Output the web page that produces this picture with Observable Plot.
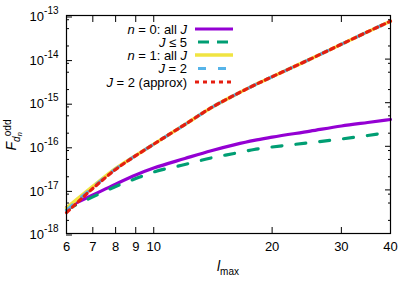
<!DOCTYPE html>
<html><head><meta charset="utf-8">
<script src="https://cdn.jsdelivr.net/npm/d3@7"></script>
<script src="https://cdn.jsdelivr.net/npm/@observablehq/plot@0.6"></script>
<style>
body{margin:0;background:#fff}
svg{font-family:"Liberation Sans",Arial,Helvetica,sans-serif}
</style>
</head><body><div id="chart"></div>
<script>
// data
const lmax = [6, 7, 8, 9, 10, 12, 14, 16, 18, 20, 25, 30, 35, 40];
const n0AllJ = [3.94e-18, 7.64e-18, 1.36e-17, 2.20e-17, 3.16e-17, 5.25e-17, 7.94e-17, 1.08e-16, 1.37e-16, 1.62e-16, 2.23e-16, 2.92e-16, 3.52e-16, 4.12e-16];
const n0Jle5 = [3.55e-18, 6.92e-18, 1.20e-17, 1.82e-17, 2.57e-17, 3.83e-17, 5.42e-17, 6.84e-17, 8.45e-17, 9.64e-17, 1.21e-16, 1.47e-16, 1.77e-16, 2.13e-16];
const n1AllJ = [3.85e-18, 1.20e-17, 3.10e-17, 6.15e-17, 1.12e-16, 3.16e-16, 7.67e-16, 1.47e-15, 2.51e-15, 3.93e-15, 1.00e-14, 2.19e-14, 4.23e-14, 7.41e-14];
const n1J2 = [3.39e-18, 1.14e-17, 3.02e-17, 6.15e-17, 1.12e-16, 3.16e-16, 7.67e-16, 1.47e-15, 2.51e-15, 3.93e-15, 1.00e-14, 2.19e-14, 4.23e-14, 7.41e-14];
const n1J2approx = [3.00e-18, 1.08e-17, 2.94e-17, 6.10e-17, 1.12e-16, 3.16e-16, 7.67e-16, 1.47e-15, 2.51e-15, 3.93e-15, 1.00e-14, 2.19e-14, 4.23e-14, 7.41e-14];
const xTicks = [6, 7, 8, 9, 10, 20, 30, 40];
const yExponents = [-18, -17, -16, -15, -14, -13];
const yMinorMult = [2, 5, 8];

const yMajor = yExponents.map(e => Math.pow(10, e));
const yMinor = yExponents.slice(0, -1).flatMap(e => yMinorMult.map(m => m * Math.pow(10, e)));

const series = [
  {values: n0AllJ, stroke: "#9400d3", width: 3.2, dash: null, legendDash: null, label: [["i","n"],["r"," = 0: all "],["i","J"]]},
  {values: n0Jle5, stroke: "#009e73", width: 3.2, dash: "10,14", legendDash: "11,8", label: [["i","J"],["r"," ≤ 5"]]},
  {values: n1AllJ, stroke: "#f0e442", width: 3.4, dash: null, legendDash: null, label: [["i","n"],["r"," = 1: all "],["i","J"]]},
  {values: n1J2, stroke: "#56b4e9", width: 3.2, dash: "8,12", legendDash: "8,12", label: [["i","J"],["r"," = 2"]]},
  {values: n1J2approx, stroke: "#e51e10", width: 3.2, dash: "4,4", legendDash: "4,4", label: [["i","J"],["r"," = 2 (approx)"]]}
];

const lineMarks = series.map(s => Plot.line(lmax.map((l, i) => ({l, v: s.values[i]})), {
  x: "l", y: "v", stroke: s.stroke, strokeWidth: s.width, strokeDasharray: s.dash, curve: "monotone-x"
}));

const fs = 13;
const chart = Plot.plot({
  width: 415, height: 290,
  marginLeft: 66, marginRight: 25, marginTop: 15, marginBottom: 57,
  style: {fontSize: fs + "px", fontFamily: '"Liberation Sans",Arial,Helvetica,sans-serif', color: "#000", background: "#fff"},
  x: {type: "log", domain: [6, 40], label: null},
  y: {type: "log", domain: [1e-18, 1e-13], label: null},
  marks: [
    ...lineMarks,
    Plot.frame({stroke: "#000", strokeWidth: 1.2}),
    Plot.axisX({anchor: "bottom", ticks: xTicks, tickSize: -6, tickPadding: 14, tickFormat: d => String(d), label: null, fontSize: fs}),
    Plot.axisX({anchor: "top", ticks: xTicks, tickSize: -6, tickFormat: () => "", label: null}),
    Plot.axisY({anchor: "left", ticks: yMajor, tickSize: -6, tickPadding: 14, dy: 1.5, tickFormat: d => String(Math.round(Math.log10(d))), label: null, fontSize: fs}),
    Plot.axisY({anchor: "right", ticks: yMajor, tickSize: -6, tickFormat: () => "", label: null}),
    Plot.axisY({anchor: "left", ticks: yMinor, tickSize: -3, tickFormat: () => "", label: null}),
    Plot.axisY({anchor: "right", ticks: yMinor, tickSize: -3, tickFormat: () => "", label: null})
  ]
});

const svg = d3.select(chart);
// superscript tick labels 10^n
svg.selectAll('g[aria-label="y-axis tick label"] text').each(function() {
  const t = d3.select(this);
  const e = t.text();
  if (!e) return;
  t.text("10");
  t.append("tspan").attr("dy", "-7").attr("font-size", "10px").text(e);
});

// y-axis title: F_{d_n}^{odd}
const yt = svg.append("text")
  .attr("transform", "translate(16,135) rotate(-90)")
  .attr("font-size", "14px").attr("fill", "#000");
yt.append("tspan").attr("font-style", "italic").text("F");
yt.append("tspan").attr("font-style", "italic").attr("font-size", "10px").attr("dy", 3.5).text("d");
yt.append("tspan").attr("font-style", "italic").attr("font-size", "7.5px").attr("dy", 2.5).text("n");
yt.append("tspan").attr("font-size", "10px").attr("dx", -4).attr("dy", -11).text("odd");

// x-axis title: l_max
const xt = svg.append("text")
  .attr("x", 228).attr("y", 271).attr("text-anchor", "middle")
  .attr("font-size", "14px").attr("fill", "#000");
xt.append("tspan").attr("font-style", "italic").text("l");
xt.append("tspan").attr("font-size", "10px").attr("dy", 4).text("max");

// legend
const rowY = [29, 42, 55, 68.5, 82];
const lg = svg.append("g");
series.forEach((s, i) => {
  const y = rowY[i];
  const tx = lg.append("text").attr("x", 187).attr("y", y + 4.5).attr("text-anchor", "end")
    .attr("font-size", fs + "px").attr("fill", "#000");
  s.label.forEach(([st, str]) => {
    const sp = tx.append("tspan").text(str);
    if (st === "i") sp.attr("font-style", "italic");
  });
  lg.append("line").attr("x1", 195).attr("x2", 233).attr("y1", y).attr("y2", y)
    .attr("stroke", s.stroke).attr("stroke-width", s.width)
    .attr("stroke-dasharray", s.legendDash)
    .attr("stroke-dashoffset", s.legendDash && s.legendDash !== "4,4" ? -3 : 0);
});

document.getElementById("chart").appendChild(chart);
</script>
</body></html>
